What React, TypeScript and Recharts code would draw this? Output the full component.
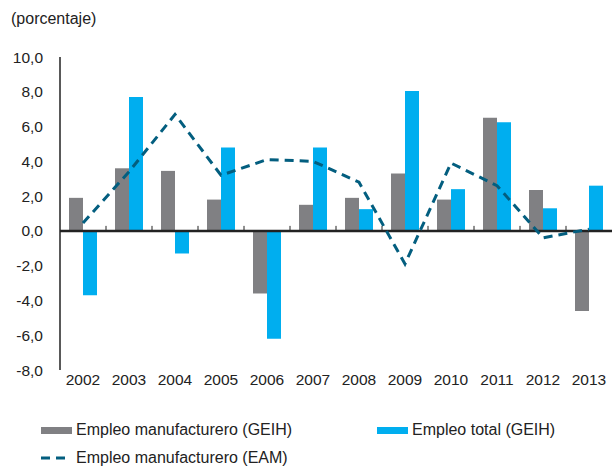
import * as React from "react"
import { Bar, ComposedChart, Line, ReferenceLine, XAxis, YAxis } from "recharts"

const years = ["2002", "2003", "2004", "2005", "2006", "2007", "2008", "2009", "2010", "2011", "2012", "2013"]
const manufGeih = [1.9, 3.6, 3.45, 1.8, -3.6, 1.5, 1.9, 3.3, 1.8, 6.5, 2.35, -4.6]
const totalGeih = [-3.7, 7.7, -1.3, 4.8, -6.2, 4.8, 1.25, 8.05, 2.4, 6.25, 1.3, 2.6]
const manufEam = [0.45, 3.4, 6.7, 3.2, 4.1, 4.0, 2.8, -1.9, 3.9, 2.6, -0.4, 0.1]
const yTicks = [-8, -6, -4, -2, 0, 2, 4, 6, 8, 10]

const data = years.map((year, i) => ({
  year,
  manufGeih: manufGeih[i],
  totalGeih: totalGeih[i],
  manufEam: manufEam[i],
}))

const font = "'Liberation Sans', Arial, Helvetica, sans-serif"
const grey = "#808083"
const blue = "#00aeef"
const teal = "#035e7f"

// zero line, with small ticks between the years
function ZeroLine(props: any) {
  const { x1, x2, y1 } = props
  if (x1 == null || x2 == null || y1 == null) return null
  const step = (x2 - x1) / years.length
  return (
    <g>
      {years.slice(1).map((_, i) => (
        <line key={i} x1={x1 + step * (i + 1)} x2={x1 + step * (i + 1)} y1={y1} y2={y1 - 5} stroke="#222" strokeWidth={1} />
      ))}
      <line x1={x1} x2={x2} y1={y1} y2={y1} stroke="#222" strokeWidth={2.5} />
    </g>
  )
}

function ChartLegend() {
  const text: React.CSSProperties = { fontSize: 16, color: "#222", fontFamily: font, whiteSpace: "nowrap" }
  return (
    <div style={{ position: "absolute", left: 0, top: 419, width: 612, height: 47 }}>
      <div style={{ position: "absolute", left: 41, top: 8, width: 31, height: 7, background: grey }} />
      <div style={{ ...text, position: "absolute", left: 76, top: 2 }}>Empleo manufacturero (GEIH)</div>
      <div style={{ position: "absolute", left: 377, top: 8, width: 31, height: 7, background: blue }} />
      <div style={{ ...text, position: "absolute", left: 412, top: 2 }}>Empleo total (GEIH)</div>
      <svg style={{ position: "absolute", left: 41, top: 36 }} width={30} height={6}>
        <line x1={0} y1={3} x2={30} y2={3} stroke={teal} strokeWidth={3} strokeDasharray="9 6" />
      </svg>
      <div style={{ ...text, position: "absolute", left: 76, top: 30 }}>Empleo manufacturero (EAM)</div>
    </div>
  )
}

export default function App() {
  return (
    <div style={{ position: "absolute", left: 0, top: 0, width: 612, height: 466, background: "#fff", fontFamily: font }}>
      <div style={{ position: "absolute", left: 11, top: 10, fontSize: 16, color: "#222" }}>(porcentaje)</div>
      <ComposedChart
        width={612}
        height={466}
        data={data}
        margin={{ top: 57, right: 0, bottom: 66, left: 0 }}
        barGap={0}
        barSize={14}
      >
        <XAxis
          dataKey="year"
          axisLine={false}
          tickLine={false}
          tickSize={0}
          tickMargin={4}
          height={30}
          interval={0}
          tick={{ fill: "#222", fontSize: 15.5, fontFamily: font }}
        />
        <YAxis
          domain={[-8, 10]}
          ticks={yTicks}
          width={60}
          tickLine={false}
          tickSize={0}
          tickMargin={17}
          axisLine={{ stroke: "#222", strokeWidth: 1.5 }}
          tickFormatter={(v: number) => v.toFixed(1).replace(".", ",")}
          tick={{ fill: "#222", fontSize: 15.5, fontFamily: font }}
        />
        <Bar dataKey="manufGeih" fill={grey} isAnimationActive={false} />
        <Bar dataKey="totalGeih" fill={blue} isAnimationActive={false} />
        <ReferenceLine y={0} shape={ZeroLine} />
        <Line
          dataKey="manufEam"
          type="linear"
          stroke={teal}
          strokeWidth={3}
          strokeDasharray="9 6"
          dot={false}
          activeDot={false}
          isAnimationActive={false}
        />
      </ComposedChart>
      <ChartLegend />
    </div>
  )
}
